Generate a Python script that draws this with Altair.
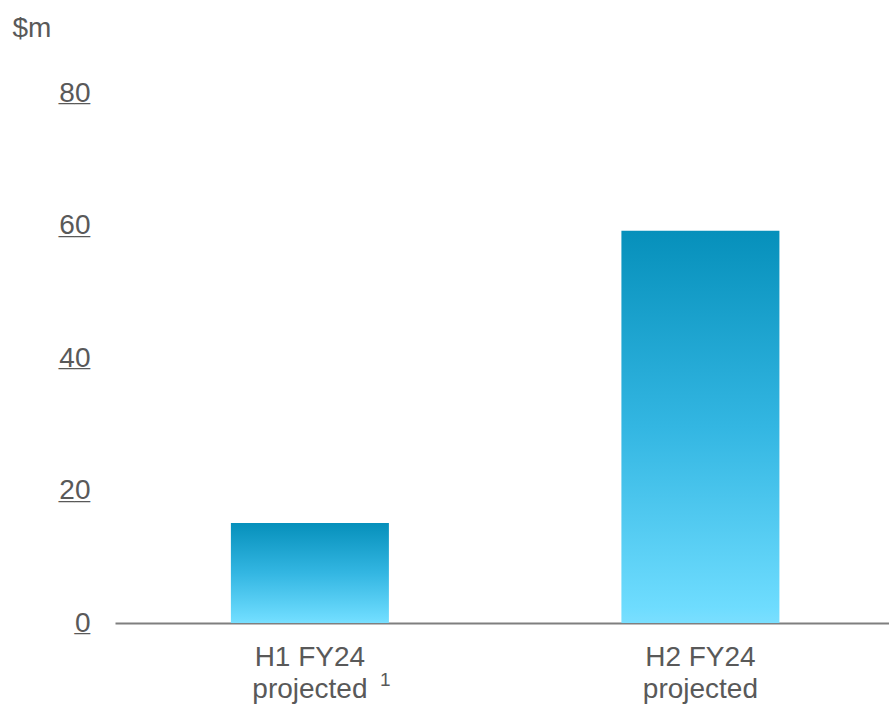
import altair as alt
import pandas as pd

categories = ["H1 FY24|projected", "H2 FY24|projected"]
values = [15.1, 59.2]
footnote_cat = ["H1 FY24|projected"]
footnote_text = ["1"]
tick_values = [0, 20, 40, 60, 80]
tick_labels = ["0", "20", "40", "60", "80"]

df = pd.DataFrame({"cat": categories, "value": values})
ticks = pd.DataFrame({"v": tick_values, "u": ["_" * len(t) for t in tick_labels]})
notes = pd.DataFrame({"cat": footnote_cat, "t": footnote_text})

FONT = "Liberation Sans"
GREY = "#595959"
FS = 28

gradient = alt.Gradient(
    gradient="linear", x1=0, y1=0, x2=0, y2=1,
    stops=[
        alt.GradientStop(color="#0690BB", offset=0),
        alt.GradientStop(color="#33B6E2", offset=0.5),
        alt.GradientStop(color="#6EDCFE", offset=0.96),
        alt.GradientStop(color="#7ADFFF", offset=1),
    ],
)

yscale = alt.Scale(domain=[0, 80], nice=False)
xscale = alt.Scale(domain=categories, paddingInner=0.5954, paddingOuter=0.2887, align=0.514)

bars = alt.Chart(df).mark_bar(color=gradient).encode(
    x=alt.X("cat:N", sort=categories, title=None, scale=xscale,
            axis=alt.Axis(labelAngle=0, labelExpr="split(datum.label, '|')",
                          labelFont=FONT, labelFontSize=FS, labelColor=GREY,
                          labelLineHeight=32, labelPadding=20, ticks=False,
                          domainColor="#7f7f7f", domainWidth=2, grid=False)),
    y=alt.Y("value:Q", scale=yscale,
            axis=alt.Axis(values=tick_values, title="$m", titleAngle=0,
                          titleX=-103, titleY=-65, titleAlign="left",
                          titleBaseline="middle", titleFont=FONT,
                          titleFontSize=FS, titleFontWeight="normal",
                          titleColor=GREY, labelFont=FONT, labelFontSize=FS,
                          labelColor=GREY, labelPadding=25, ticks=False,
                          domain=False, grid=False)),
)

underlines = alt.Chart(ticks).mark_text(
    font=FONT, fontSize=FS, fontWeight="bold", color=GREY, align="right",
    baseline="middle"
).encode(
    y=alt.Y("v:Q", scale=yscale),
    x=alt.value(-25),
    text="u:N",
)

footnote = alt.Chart(notes).mark_text(
    font=FONT, fontSize=19, color=GREY, align="left", baseline="middle", dx=70
).encode(
    x=alt.X("cat:N", scale=xscale),
    y=alt.value(530 + 57),
    text="t:N",
)

chart = alt.layer(bars, underlines, footnote).properties(
    width=774, height=530,
    autosize=alt.AutoSizeParams(type="none"),
    padding={"left": 115, "top": 93, "right": 0, "bottom": 82},
    background="white",
).configure_view(strokeWidth=0)

chart.save("out.html", embed_options={"renderer": "svg", "actions": False})
